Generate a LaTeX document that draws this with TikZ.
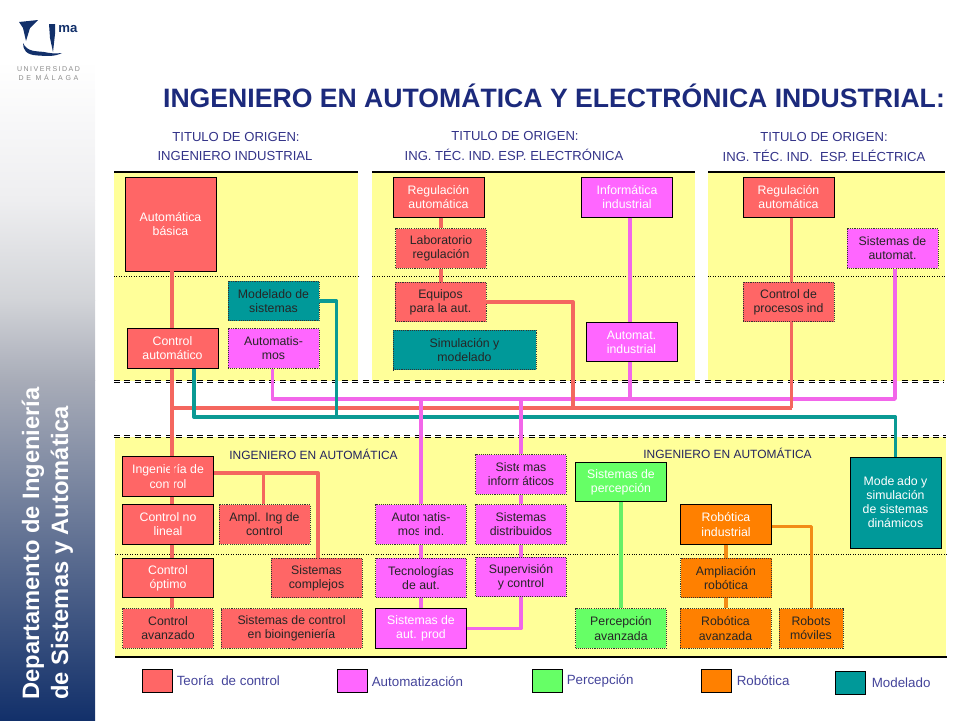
\documentclass[tikz,border=0pt]{standalone}
\usepackage{fontspec}
\setmainfont{Liberation Sans}
\newfontfamily\logofonta[LetterSpace=21]{Liberation Sans}
\newfontfamily\logofontb[LetterSpace=38]{Liberation Sans}
\usetikzlibrary{positioning}

\definecolor{azulT}{HTML}{1C2A7C}
\definecolor{azulH}{HTML}{333388}
\definecolor{azulL}{HTML}{44449A}
\definecolor{marino}{HTML}{12306A}
\definecolor{grisA}{HTML}{EEEEF0}
\definecolor{grisB}{HTML}{D2D4D8}
\definecolor{grisF}{HTML}{A8ACB8}
\definecolor{amarillo}{HTML}{FFFF99}
\definecolor{rojoC}{HTML}{FF6666}
\definecolor{magentaC}{HTML}{FF66FF}
\definecolor{verdeC}{HTML}{66FF66}
\definecolor{naranjaC}{HTML}{FF8000}
\definecolor{tealC}{HTML}{009999}
\definecolor{rojoL}{HTML}{F4675F}
\definecolor{magentaL}{HTML}{F266EA}
\definecolor{verdeL}{HTML}{66F066}
\definecolor{naranjaL}{HTML}{F28C16}
\definecolor{tealL}{HTML}{0A9A94}

\tikzset{
  caja/.style={minimum width=1.82cm,minimum height=0.79cm,inner sep=0pt,align=center,
    font=\fontsize{7}{8}\selectfont},
  solida/.style={caja,draw=black,line width=0.5pt,text=white},
  punteada/.style={caja,draw=black!80,dash pattern=on 0.6pt off 0.6pt,line width=0.5pt,text=black!85},
  linea/.style={line width=1.9pt,line join=round},
  rayas/.style={line width=0.65pt,double=white,double distance=0.7pt,dash pattern=on 3.4pt off 2.5pt},
  leyenda/.style={minimum width=0.6cm,minimum height=0.46cm,inner sep=0pt,draw=black,line width=0.5pt},
  textley/.style={anchor=west,inner sep=0pt,text=azulL,font=\fontsize{7.6}{9}\selectfont},
  cabecera/.style={inner sep=0pt,text=azulH,font=\fontsize{7.45}{9}\selectfont},
}

\begin{document}
\begin{tikzpicture}[x=0.02cm,y=-0.02cm]
  \useasboundingbox (0,0) rectangle (960,720);

  % franja lateral
  \foreach \ya/\yb/\ca/\cb in {60/200/white/grisA,200/300/grisA/grisB,300/380/grisB/grisF,380/720/grisF/marino}
    \shade[top color=\ca,bottom color=\cb] (0,\ya) rectangle (95,\yb);
  \node[rotate=90,white,inner sep=0pt,font=\fontsize{13.5}{15}\bfseries\selectfont] (dpto1) at (33,543.5) {Departamento de Ingeniería};
  \node[rotate=90,white,inner sep=0pt,font=\fontsize{13.5}{15}\bfseries\selectfont] (dpto2) at (62,553) {de Sistemas y Automática};

  % logo
  \fill[marino] (19,22) -- (38,20) -- (30,28) -- (26,41) -- (23,28) -- cycle;
  \fill[marino] (49,24) -- (55,24) -- (55,34) -- (53,52) -- (50,38) -- cycle;
  \fill[marino] (23,43) .. controls (23,50) and (26,55) .. (38,55.5) .. controls (46,56) and (54,57) .. (62,53)
    .. controls (55,54) and (49,53) .. (44,52) .. controls (36,51) and (27,52) .. (23,43) -- cycle;
  \node[inner sep=0pt,marino,font=\fontsize{7.5}{8}\bfseries\selectfont] (logoma) at (68,29) {ma};
  \node[inner sep=0pt,black!45,font=\logofonta\fontsize{4}{5}\selectfont] (logou) at (48.5,69) {UNIVERSIDAD};
  \node[inner sep=0pt,black!45,font=\logofontb\fontsize{4}{5}\selectfont] (logod) at (48.5,77) {DE MÁLAGA};

  \node[inner sep=0pt,text=azulT,font=\fontsize{15.15}{18}\bfseries\selectfont] (titulo) at (554,95.5) {INGENIERO EN AUTOMÁTICA Y ELECTRÓNICA INDUSTRIAL:};

  % cabeceras
  \node[cabecera] (orig1) at (236,137) {TITULO DE ORIGEN:};
  \node[cabecera] (tit1) at (235,156) {INGENIERO INDUSTRIAL};
  \node[cabecera] (orig2) at (515,136) {TITULO DE ORIGEN:};
  \node[cabecera] (tit2) at (514,155) {ING. TÉC. IND. ESP. ELECTRÓNICA};
  \node[cabecera] (orig3) at (824,137) {TITULO DE ORIGEN:};
  \node[cabecera] (tit3) at (824,156) {ING. TÉC. IND.~ ESP. ELÉCTRICA};

  % paneles
  \foreach \xa/\xb in {114/358,372/695,708/945} {
    \fill[amarillo] (\xa,172) rectangle (\xb,381);
    \draw[black,line width=0.6pt] (\xa,172) -- (\xb,172);
    \draw[black,densely dotted,line width=0.4pt] (\xa,276) -- (\xb,276);
  }
  \fill[amarillo] (115,437) rectangle (946,657);
  \draw[black,densely dotted,line width=0.4pt] (115,554) -- (947,554);
  \draw[black,line width=0.6pt] (115,657) -- (947,657);
  \draw[rayas] (114,381.5) -- (944,381.5);
  \draw[rayas] (114,436.5) -- (946,436.5);

  \node[inner sep=0pt,text=black!30!azulH,font=\fontsize{6.8}{8}\selectfont] (ing1) at (313.5,454) {INGENIERO EN AUTOMÁTICA};
  \node[inner sep=0pt,text=black!30!azulH,font=\fontsize{6.8}{8}\selectfont] (ing2) at (727.5,453) {INGENIERO EN AUTOMÁTICA};

  % origen
  \node[solida,fill=rojoC,minimum height=1.88cm] (autbasica) at (170.5,224) {Automática\\básica};
  \node[punteada,fill=tealC] (modelado) at (273.5,301) {Modelado de\\sistemas};
  \node[solida,fill=rojoC] (ctrlaut) at (172.5,348.5) {Control\\automático};
  \node[punteada,fill=magentaC] (automat) at (273.5,348.5) {Automatis-\\mos};
  \node[solida,fill=rojoC] (regul) at (438.5,197.5) {Regulación\\automática};
  \node[punteada,fill=rojoC] (labreg) at (441,248.5) {Laboratorio\\regulación};
  \node[punteada,fill=rojoC] (equipos) at (440.5,302) {Equipos\\para la aut.};
  \node[punteada,fill=tealC,minimum width=2.86cm] (simul) at (464.5,350) {Simulación y\\modelado};
  \node[solida,fill=magentaC] (inform) at (627,197.5) {Informática\\industrial};
  \node[solida,fill=magentaC] (autind) at (631.5,342) {Automat.\\industrial};
  \node[solida,fill=rojoC] (regulb) at (788.5,197.5) {Regulación\\automática};
  \node[punteada,fill=magentaC] (sisaut) at (892.5,248.5) {Sistemas de\\automat.};
  \node[punteada,fill=rojoC] (ctrlproc) at (788.5,302) {Control de\\procesos ind};

  % destino
  \node[solida,fill=rojoC] (ingctrl) at (168,476.5) {Ingeniería de\\control};
  \node[solida,fill=rojoC] (nolineal) at (168,524.5) {Control no\\lineal};
  \node[punteada,fill=rojoC] (amping) at (264.5,524.5) {Ampl. Ing de\\control};
  \node[solida,fill=rojoC] (optimo) at (168,578) {Control\\óptimo};
  \node[punteada,fill=rojoC] (complejos) at (316.5,578) {Sistemas\\complejos};
  \node[punteada,fill=rojoC] (ctrlavan) at (168,628.5) {Control\\avanzado};
  \node[punteada,fill=rojoC,minimum width=2.82cm] (bioing) at (291.5,628.5) {Sistemas de control\\en bioingeniería};
  \node[punteada,fill=magentaC] (automind) at (421,524.5) {Automatis-\\mos ind.};
  \node[punteada,fill=magentaC] (tecaut) at (421,578) {Tecnologías\\de aut.};
  \node[solida,fill=magentaC] (sisprod) at (421,628.5) {Sistemas de\\aut. prod};
  \node[punteada,fill=magentaC] (sisinf) at (521,474.5) {Sistemas\\informáticos};
  \node[punteada,fill=magentaC] (sisdis) at (521,524.5) {Sistemas\\distribuidos};
  \node[punteada,fill=magentaC] (superv) at (521,577) {Supervisión\\y control};
  \node[solida,fill=verdeC] (sisperc) at (621,482) {Sistemas de\\percepción};
  \node[punteada,fill=verdeC] (percav) at (621,628.5) {Percepción\\avanzada};
  \node[solida,fill=naranjaC] (robind) at (726,524.5) {Robótica\\industrial};
  \node[punteada,fill=naranjaC] (amprob) at (726,578) {Ampliación\\robótica};
  \node[punteada,fill=naranjaC] (robav) at (725.5,628.5) {Robótica\\avanzada};
  \node[punteada,fill=naranjaC,minimum width=1.28cm] (robmov) at (811,628.5) {Robots\\móviles};
  \node[solida,fill=tealC,minimum height=1.82cm] (modsim) at (895.5,502.5) {Modelado y\\simulación\\de sistemas\\dinámicos};

  % buses
  \coordinate (bRojoA) at (172,408);
  \coordinate (bRojoB) at (573,408);
  \coordinate (bRojoC) at (791.5,408);
  \coordinate (bMagA) at (272.5,399);
  \coordinate (bMagB) at (630,399);
  \coordinate (bMagC) at (895,399);
  \coordinate (bMagD) at (421,399);
  \coordinate (bMagE) at (521,399);
  \coordinate (bTealA) at (194,417);
  \coordinate (bTealB) at (336.5,417);
  \coordinate (bTealC) at (895.5,417);
  \coordinate (cRama) at (263.5,473);
  \coordinate (cComp) at (318,473);
  \coordinate (cRob) at (811.5,526.5);

  % conectores
  \draw[linea,magentaL] (automat.south -| bMagA) -- (bMagA) -- (bMagC) -- (sisaut.south -| bMagC);
  \draw[linea,magentaL] (inform.south -| bMagB) -- (autind.north -| bMagB);
  \draw[linea,magentaL] (autind.south -| bMagB) -- (bMagB);

  \draw[linea,rojoL] (autbasica.south -| bRojoA) -- (ctrlaut.north -| bRojoA);
  \draw[linea,rojoL] (ctrlaut.south -| bRojoA) -- (ingctrl.north -| bRojoA);
  \draw[linea,rojoL] (bRojoA) -- (bRojoC);
  \draw[linea,rojoL] (regul.south -| labreg) -- (labreg.north);
  \draw[linea,rojoL] (labreg.south) -- (equipos.north -| labreg);
  \draw[linea,rojoL] (equipos.east) -- (equipos.east -| bRojoB) -- (bRojoB);
  \draw[linea,rojoL] (regulb.south -| bRojoC) -- (ctrlproc.north -| bRojoC);
  \draw[linea,rojoL] (ctrlproc.south -| bRojoC) -- (bRojoC);
  \foreach \a/\b in {ingctrl/nolineal,nolineal/optimo,optimo/ctrlavan}
    \draw[linea,rojoL] (\a.south -| bRojoA) -- (\b.north -| bRojoA);
  \draw[linea,rojoL] (ingctrl.east |- cComp) -- (cComp) -- (complejos.north -| cComp);
  \draw[linea,rojoL] (cRama) -- (amping.north -| cRama);

  \draw[linea,tealL] (ctrlaut.south -| bTealA) -- (bTealA) -- (bTealC) -- (modsim.north -| bTealC);
  \draw[linea,tealL] (modelado.east) -- (modelado.east -| bTealB) -- (bTealB);

  \draw[linea,magentaL] (bMagD) -- (automind.north -| bMagD);
  \draw[linea,magentaL] (bMagE) -- (sisinf.north -| bMagE);
  \foreach \a/\b in {automind/tecaut,tecaut/sisprod}
    \draw[linea,magentaL] (\a.south -| bMagD) -- (\b.north -| bMagD);
  \foreach \a/\b in {sisinf/sisdis,sisdis/superv}
    \draw[linea,magentaL] (\a.south -| bMagE) -- (\b.north -| bMagE);
  \draw[linea,magentaL] (superv.south -| bMagE) -- (bMagE |- sisprod.east) -- (sisprod.east);

  \draw[linea,verdeL] (sisperc.south) -- (percav.north);
  \draw[linea,naranjaL] (robind.south) -- (amprob.north);
  \draw[linea,naranjaL] (amprob.south) -- (robav.north -| amprob);
  \draw[linea,naranjaL] (robind.east |- cRob) -- (cRob) -- (robmov.north -| cRob);

  % los conectores pasan por encima del texto
  \foreach \caja/\bus/\col/\corte in {ingctrl/bRojoA/rojoC/0.6pt,amping/cRama/rojoC/11.5pt,automind/bMagD/magentaC/0.6pt,sisinf/bMagE/magentaC/0.6pt,modsim/bTealC/tealC/35pt}
    \draw[line width=1.9pt,\col,shorten <=0.6pt,shorten >=\corte] (\caja.north -| \bus) -- (\caja.south -| \bus);

  % leyenda
  \node[leyenda,fill=rojoC] (leyT) at (157,681) {};
  \node[textley,right=0.08cm of leyT] (txtT) {Teoría~ de control};
  \node[leyenda,fill=magentaC] (leyA) at (352,681) {};
  \node[textley,right=0.08cm of leyA,yshift=-0.02cm] (txtA) {Automatización};
  \node[leyenda,fill=verdeC] (leyP) at (547,681) {};
  \node[textley,right=0.08cm of leyP] (txtP) {Percepción};
  \node[leyenda,fill=naranjaC] (leyR) at (716,681) {};
  \node[textley,right=0.1cm of leyR] (txtR) {Robótica};
  \node[leyenda,fill=tealC] (leyM) at (850,682.5) {};
  \node[textley,right=0.12cm of leyM] (txtM) {Modelado};
\end{tikzpicture}
\end{document}
